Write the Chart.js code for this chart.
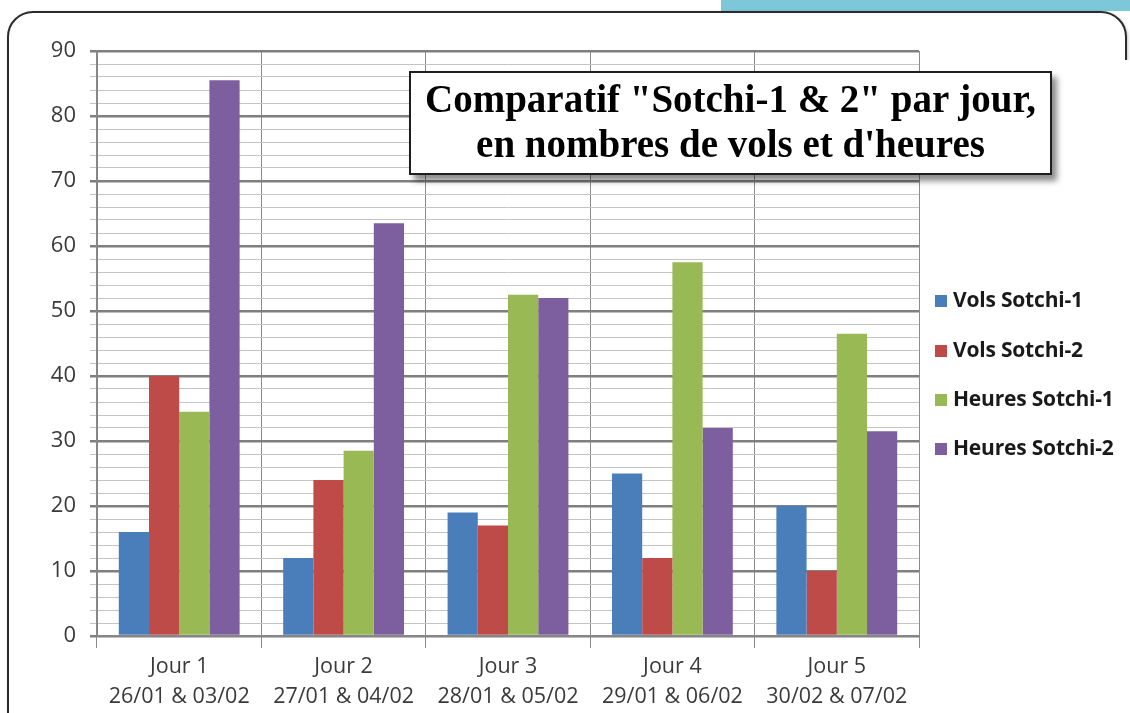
<!DOCTYPE html>
<html lang="fr">
<head>
  <meta charset="UTF-8">
  <title>Comparatif Sotchi-1 & 2</title>
  <script src="https://cdn.jsdelivr.net/npm/chart.js"></script>
  <style>
    html, body { margin: 0; padding: 0; background: #fff; }
    .stage { position: relative; width: 1130px; height: 713px; overflow: hidden; background: #fff; }
    .tab { position: absolute; left: 721px; top: 0; width: 409px; height: 11px; background: #7cc8d8; }
    .frame { position: absolute; left: 7px; top: 11px; width: 1116px; height: 740px; border: 2px solid #2b2b2b; border-radius: 26px; box-shadow: 1px 1px 3px rgba(0,0,0,0.25); }
    .fade { position: absolute; left: 1100px; top: 60px; width: 30px; height: 660px; background: #fff; }
    canvas { position: absolute; left: 0; top: 0; }
    .title-box { position: absolute; left: 409px; top: 71px; width: 639px; height: 97px; border: 2px solid #1e1e1e; background: #fff;
      box-shadow: 5px 6px 6px rgba(0,0,0,0.45); font-family: "Liberation Serif", serif; font-weight: bold; font-size: 39px;
      line-height: 45px; text-align: center; color: #000; padding-top: 3px; }
    .legend { position: absolute; left: 935px; top: 0; font-family: "Open Sans", sans-serif; font-weight: bold; font-size: 21px; color: #1a1a1a; letter-spacing: -0.2px; }
    .legend .item { position: absolute; left: 0; white-space: nowrap; height: 28px; line-height: 28px; }
    .legend .sw { display: inline-block; width: 12px; height: 12px; margin-right: 6px; vertical-align: 0px; }
  </style>
</head>
<body>
  <div class="stage">
    <div class="tab"></div>
    <div class="frame"></div>
    <div class="fade"></div>
    <canvas id="chart" width="1130" height="713"></canvas>
    <div class="title-box" id="title"></div>
    <div class="legend" id="legend"></div>
  </div>

  <script>
    const jours = ['Jour 1', 'Jour 2', 'Jour 3', 'Jour 4', 'Jour 5'];
    const dates = ['26/01 & 03/02', '27/01 & 04/02', '28/01 & 05/02', '29/01 & 06/02', '30/02 & 07/02'];

    const volsSotchi1 = [16, 12, 19, 25, 20];
    const volsSotchi2 = [40, 24, 17, 12, 10];
    const heuresSotchi1 = [34.5, 28.5, 52.5, 57.5, 46.5];
    const heuresSotchi2 = [85.5, 63.5, 52, 32, 31.5];

    const seriesNames = ['Vols Sotchi-1', 'Vols Sotchi-2', 'Heures Sotchi-1', 'Heures Sotchi-2'];
    const seriesColors = ['#4a7ebb', '#be4b48', '#98b954', '#7d5fa0'];
    const titleLines = ['Comparatif "Sotchi-1 & 2" par jour,', "en nombres de vols et d'heures"];

    const yMax = 90;
    const yStep = 2;      // minor grid every 2, labels every 10
    const yMajor = 10;

    // title box
    document.getElementById('title').innerHTML = titleLines.map(t => `<div>${t.replace(/&/g, '&amp;')}</div>`).join('');

    const values = [volsSotchi1, volsSotchi2, heuresSotchi1, heuresSotchi2];

    const ctx = document.getElementById('chart').getContext('2d');
    const chart = new Chart(ctx, {
      type: 'bar',
      data: {
        labels: jours.map((j, i) => [j, dates[i]]),
        datasets: values.map((v, i) => ({
          label: seriesNames[i],
          data: v,
          backgroundColor: seriesColors[i],
          borderWidth: 0,
          barPercentage: 1,
          categoryPercentage: 0.735
        }))
      },
      options: {
        responsive: false,
        animation: false,
        layout: { padding: { top: 51, right: 211, bottom: 0, left: 10 } },
        plugins: { legend: { display: false }, tooltip: { enabled: false } },
        scales: {
          x: {
            afterFit: s => { s.height = 77; },
            grid: { color: '#8c8c8c', lineWidth: 1, tickLength: 12, offset: true },
            border: { color: '#868686', width: 2 },
            ticks: { color: '#3a3a3a', padding: 4, font: { family: 'Open Sans', size: 21.5, lineHeight: 1.4 } }
          },
          y: {
            min: 0,
            max: yMax,
            afterFit: s => { s.width = 87; },
            ticks: {
              stepSize: yStep,
              autoSkip: false,
              color: '#3a3a3a',
              padding: 14,
              font: { family: 'Open Sans', size: 22 },
              callback: v => (v % yMajor === 0 ? v : '')
            },
            grid: {
              tickLength: 7,
              color: c => (c.tick && c.tick.value % yMajor === 0 ? '#7f7f7f' : '#c4c4c4'),
              lineWidth: c => (c.tick && c.tick.value % yMajor === 0 ? 2.5 : 1)
            },
            border: { color: '#868686', width: 2 }
          }
        }
      }
    });

    // legend built from the datasets
    const legendCenters = [299, 349, 398, 447];
    document.getElementById('legend').innerHTML = chart.data.datasets.map((d, i) =>
      `<div class="item" style="top:${legendCenters[i] - 14}px"><span class="sw" style="background:${d.backgroundColor}"></span>${d.label}</div>`
    ).join('');
  </script>
</body>
</html>
